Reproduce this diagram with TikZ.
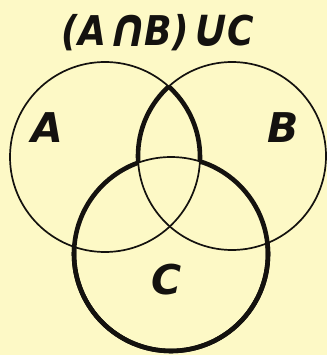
\documentclass[tikz,border=0pt]{standalone}
\usepackage{fontspec}
\newfontfamily\letterfont{DejaVu Sans}
\newfontfamily\opfont[FakeSlant=0.22]{DejaVu Sans Bold}
\definecolor{paper}{RGB}{253,249,198}
\definecolor{ink}{RGB}{20,18,15}
\newcommand{\bigop}[1]{{\opfont\fontsize{54}{54}\selectfont\raisebox{-1pt}{#1}}}
\tikzset{
  thinline/.style={draw=ink, line width=1.7pt},
  thickline/.style={draw=ink, line width=4.6pt},
  lettering/.style={text=ink, font=\letterfont\bfseries\itshape\fontsize{41}{41}\selectfont, inner sep=0pt}
}
\begin{document}
\begin{tikzpicture}[x=1pt,y=-1pt]
\fill[paper] (0,0) rectangle (327,355);
\useasboundingbox (0,0) rectangle (327,355);
% centres and radii
\coordinate (ca) at (105,157);
\coordinate (cb) at (232,156);
\coordinate (cc) at (171,254);
\def\ra{95}
\def\rb{94}
\def\rc{97}
% thick lens boundary of A and B, outside C
\begin{scope}[even odd rule]
  \clip (-20,-20) rectangle (360,380) (cc) circle (\rc);
  \begin{scope}
    \clip (ca) circle (\ra);
    \draw[thickline] (cb) circle (\rb);
  \end{scope}
  \begin{scope}
    \clip (cb) circle (\rb);
    \draw[thickline] (ca) circle (\ra);
  \end{scope}
\end{scope}
% thick C outside the lens
\begin{scope}[even odd rule]
  \clip (-20,-20) rectangle (360,380) (ca) circle (\ra);
  \draw[thickline] (cc) circle (\rc);
\end{scope}
\begin{scope}[even odd rule]
  \clip (-20,-20) rectangle (360,380) (cb) circle (\rb);
  \draw[thickline] (cc) circle (\rc);
\end{scope}
% thin circles
\draw[thinline] (ca) circle (\ra);
\draw[thinline] (cb) circle (\rb);
\draw[thinline] (cc) circle (\rc);
% labels
\node[lettering] (title) at (158,33) {\scalebox{0.88}[1]{(A\bigop{∩}B)\bigop{∪}C}};
\node[lettering] (la) at (47,128) {A};
\node[lettering] (lb) at (283,128) {B};
\node[lettering] (lc) at (167,280) {C};
\end{tikzpicture}
\end{document}
